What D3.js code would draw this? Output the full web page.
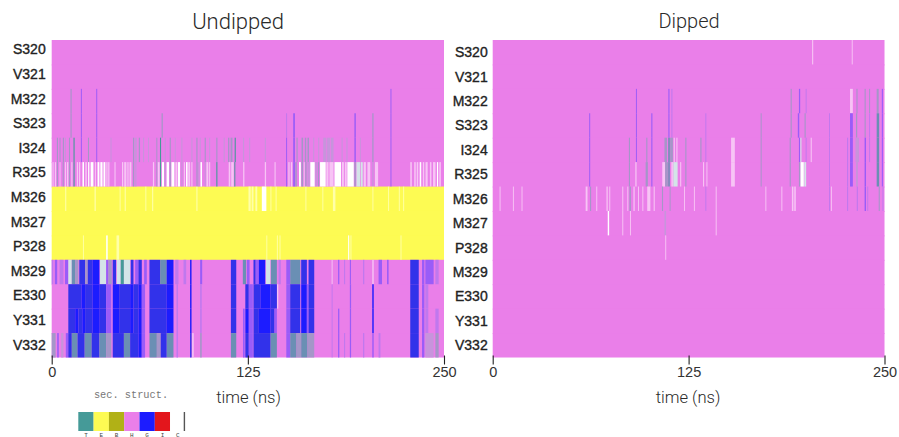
<!DOCTYPE html>
<html>
<head>
  <title>Secondary structure</title>
  <style type="text/css">
    html, body { margin: 0; padding: 0; background: #fff; overflow: hidden; }
    text { font-family: "Liberation Sans", sans-serif; }
  </style>
</head>
<body>
<div id="chart"></div>

<script src="https://d3js.org/d3.v7.min.js"></script>
<script type="text/javascript">
var residues = ["S320","V321","M322","S323","I324","R325","M326","M327","P328","M329","E330","Y331","V332"];
var timeTicks = [0, 125, 250];

var legendCodes = ["T","E","B","H","G","I","C"];
var legendColors = ["#459a98","#fdfb52","#b1b116","#ea7fe9","#1a1aff","#e3141e","#ffffff"];
// in-between codes: frames averaged within one time bin of the picture
var blendCodes = ["M","V","v","A","a","P","y","L","t"];
var blendColors = ["#3030ea","#9a5cf8","#c078ee","#a596c8","#c794dc","#f7c4f5","#ffffa8","#d4e4e8","#6b8fb4"];

var undippedBase = ["H","H","H","H","H","H","E","E","E","H","H","H","H"];
var dippedBase = ["H","H","H","H","H","H","H","H","H","H","H","H","H"];

// spans are [start ns, end ns, code]
var u_M322 = [[12,12.7,"A"],[18.6,19.2,"V"],[28.4,29,"V"],[215.9,216.5,"V"]];
var u_S323 = [[12,12.7,"A"],[18.6,19.2,"V"],[28.4,29,"V"],[70,70.8,"A"],[149.4,150,"v"],[153.9,155,"V"],[192.9,193.8,"V"],[204.3,205.1,"A"],[215.9,216.5,"V"]];
var u_I324 = [[3.3,4,"A"],[5,5.6,"A"],[7.1,7.8,"A"],[8.4,9.1,"a"],[11,11.7,"A"],[13.9,14.6,"T"],[18.6,19.2,"V"],[23.1,23.8,"A"],[28.4,29,"V"],[37.5,38.1,"a"],[51.8,52.6,"A"],[53,54.2,"a"],[55.5,56.3,"A"],[58.2,58.9,"a"],[61.4,62,"a"],[66.7,67.3,"A"],[69,69.7,"T"],[72,72.7,"a"],[75.2,75.9,"A"],[78.4,79,"a"],[82.6,83.3,"a"],[89,89.7,"a"],[92.2,92.9,"A"],[94.3,95,"a"],[97.5,98.2,"A"],[100.3,101,"a"],[104.9,105.6,"A"],[109.6,110.3,"a"],[112.4,113.2,"A"],[114,115.2,"A"],[116.6,117.3,"T"],[121.9,122.6,"a"],[125.8,126.5,"a"],[135.8,136.5,"a"],[149.4,150,"V"],[153.9,155,"V"],[156,156.7,"A"],[159.2,160.2,"A"],[161.3,162.2,"A"],[163,164,"A"],[166.6,167.3,"a"],[169.8,170.5,"a"],[173,175,"a"],[175.5,177.5,"a"],[178,179.6,"a"],[184.7,185.4,"a"],[187.8,188.5,"a"],[192.9,193.8,"V"],[196.4,197,"a"],[204.3,205.1,"A"],[215.9,216.5,"V"]];
var u_R325 = [[0.5,1.2,"P"],[2,2.8,"P"],[3.3,4,"A"],[5,5.6,"P"],[7,7.7,"A"],[8.4,9.1,"P"],[9.7,10.6,"P"],[11,11.7,"A"],[12.5,13.2,"P"],[13.9,14.6,"T"],[16,16.8,"P"],[17.4,18.2,"P"],[19.6,20.6,"C"],[21.4,22.4,"P"],[23.2,24,"C"],[24.8,26.6,"C"],[27.5,28.2,"P"],[29.2,30.4,"C"],[31,32.4,"C"],[33,34.2,"C"],[34.8,35.6,"P"],[36,36.8,"P"],[40,40.7,"P"],[44.8,45.6,"P"],[46.2,47.6,"P"],[48.2,49,"P"],[49.6,50.8,"P"],[51.8,52.6,"A"],[53.2,54,"a"],[64.5,65.3,"P"],[66.7,67.3,"A"],[67.6,68.8,"P"],[69,69.7,"T"],[70.2,71.6,"C"],[72,72.7,"a"],[73.2,74.8,"C"],[75.2,75.9,"A"],[76.3,78.2,"C"],[78.8,80,"P"],[80.4,81.8,"C"],[82.6,83.3,"a"],[84.2,84.9,"P"],[85.6,86.6,"C"],[87,88.2,"P"],[89,89.7,"P"],[92.2,93,"A"],[93.4,94.1,"a"],[94.8,95.8,"C"],[97.5,98.2,"a"],[98.6,99.8,"P"],[100.3,101,"P"],[104.9,105.6,"T"],[112.8,113.8,"P"],[114.4,116,"P"],[116.4,117,"T"],[122,122.8,"P"],[135.8,136.6,"P"],[142,142.7,"P"],[149.4,150,"V"],[150.8,151.6,"P"],[152.4,153.3,"P"],[153.9,155,"V"],[155.2,156.2,"A"],[157.6,158.8,"C"],[159.2,160.2,"A"],[160.6,161.2,"P"],[161.6,162.4,"A"],[163,164.4,"a"],[164.8,167.6,"C"],[168,169,"a"],[169.6,170.4,"A"],[171,174.6,"C"],[175,176.4,"P"],[177,179.6,"P"],[180.2,184.4,"C"],[185,186.2,"P"],[186.8,188,"P"],[188.4,192.5,"C"],[192.9,193.8,"A"],[194.2,196.6,"L"],[197,198.2,"L"],[198.8,200.2,"P"],[201.2,203,"P"],[204.3,205.1,"a"],[206,208,"P"],[215.9,216.5,"V"],[228.5,229.5,"P"],[231,232,"P"],[232.6,233.6,"P"],[234.5,235.5,"C"],[236.5,237.4,"P"],[238.2,239.6,"P"],[241,242,"P"],[243,244.6,"P"],[245.5,246.3,"C"],[247,248,"P"]];
var u_M326 = [[8.6,9.3,"y"],[27.3,28.1,"y"],[43.3,43.9,"y"],[46.5,47.2,"y"],[59.7,60.3,"y"],[64,64.7,"y"],[92.2,92.9,"y"],[125.4,126.8,"y"],[127.4,128.6,"y"],[129.8,131,"y"],[133.9,136.8,"C"],[139.4,140,"y"],[142.7,143.3,"y"],[161.7,162.3,"y"],[172.5,173.1,"y"],[179.2,180.8,"y"],[204.4,205,"y"],[214.4,215,"y"],[221.2,221.8,"y"],[224,224.6,"y"]];
var u_M327 = [];
var u_P328 = [[19.9,20.5,"y"],[34.7,35.7,"C"],[41.3,43,"y"],[136.8,137.4,"y"],[143.5,144.1,"y"],[145.2,145.8,"y"],[188.9,189.6,"C"],[190.4,191,"y"],[222.3,222.9,"y"]];
var u_M329 = [[0,1,"v"],[2,3.5,"V"],[5,7.5,"v"],[8.5,10.6,"V"],[10.6,12.8,"L"],[12.8,14.9,"t"],[14.9,17,"A"],[17.6,21.3,"M"],[21.3,23,"A"],[23,26.1,"M"],[26.1,30.4,"G"],[30.8,34.7,"L"],[34.7,36.1,"V"],[36.1,38.3,"A"],[38.9,41,"M"],[41.5,44,"L"],[44,46,"T"],[46,50,"L"],[50.4,52.1,"M"],[53.2,55.3,"V"],[55.3,57.4,"M"],[58.9,60.6,"V"],[62.3,69.1,"M"],[69.1,73.3,"t"],[73.3,77.6,"G"],[78.7,80.8,"v"],[84,85.7,"v"],[88.2,89.1,"G"],[94.6,95.9,"V"],[114.2,117.6,"M"],[121.8,123.9,"t"],[124.4,126.1,"V"],[128.6,130,"M"],[130,132,"V"],[132,136.1,"G"],[136.5,139.3,"L"],[139.7,143.5,"t"],[144.6,146,"v"],[149.5,152,"V"],[152,158.4,"t"],[159,162.6,"M"],[163.7,167.3,"M"],[178.4,179,"P"],[182.5,183.3,"V"],[186.3,187,"v"],[190,190.7,"V"],[198.4,199.2,"v"],[204.3,205.2,"P"],[208.3,210.5,"V"],[213.7,214.7,"V"],[228.5,233.9,"M"],[236,237.5,"V"],[238.1,243.4,"V"],[244.5,246.6,"v"]];
var u_E330 = [[10.6,19,"M"],[19,21.3,"G"],[21.3,26.1,"M"],[26.1,30.6,"G"],[30.6,34.7,"M"],[34.7,38,"V"],[38.9,43,"G"],[43,50,"M"],[50,52.1,"G"],[52.1,55.3,"M"],[55.3,57.4,"G"],[57.4,59.5,"V"],[62.3,73.3,"M"],[73.3,77.6,"G"],[79.5,80.5,"v"],[88.2,89.1,"G"],[94.6,95.6,"v"],[114.2,117.6,"M"],[123.4,125.6,"M"],[125.6,128.2,"V"],[128.6,133,"M"],[133,139.5,"G"],[139.5,143.5,"M"],[143.6,144.4,"P"],[149.5,152,"V"],[152,158.4,"M"],[159,162.6,"G"],[162.6,163.7,"V"],[163.7,167.3,"M"],[178.4,179,"v"],[190,190.8,"V"],[204.3,205.2,"G"],[228.5,233.9,"M"],[236,237.5,"V"],[238.1,240,"v"]];
var u_Y331 = [[10.6,15,"M"],[15,17,"G"],[17,19.5,"M"],[19.5,21.3,"G"],[21.3,26.1,"M"],[26.1,30.6,"G"],[30.6,34.7,"M"],[34.7,38,"V"],[38.9,43,"G"],[43,50,"M"],[50,52.1,"G"],[52.1,55.3,"M"],[55.3,57.4,"G"],[57.4,59.5,"V"],[62.3,73.3,"M"],[73.3,77.6,"G"],[79.5,80.5,"v"],[88.2,89.1,"G"],[94.6,95.6,"v"],[114.2,117.6,"M"],[121.9,123,"V"],[123.4,125.6,"G"],[125.6,128.2,"V"],[128.6,132,"M"],[132,139.5,"G"],[139.5,142,"M"],[142,143.5,"V"],[149.5,152,"V"],[152,158.4,"M"],[159,162.6,"G"],[162.6,163.7,"V"],[163.7,167.3,"M"],[178.4,179,"v"],[182.5,183.3,"V"],[190,190.8,"V"],[204.3,205.2,"G"],[228.5,233.9,"M"],[236,237.5,"V"],[238.1,240,"v"],[244.5,246.6,"v"]];
var u_V332 = [[0,2.5,"A"],[3.5,4.5,"V"],[6,7.5,"a"],[9,10.6,"V"],[10.6,12.8,"M"],[12.8,16.5,"t"],[16.5,21,"M"],[21,25.5,"t"],[25.5,30.4,"M"],[30.4,34.7,"t"],[34.7,38,"A"],[38.9,46,"M"],[46,50,"t"],[50,55.3,"M"],[55.3,57.4,"G"],[57.4,59.5,"V"],[62.3,67,"t"],[67,69.5,"A"],[69.5,73.3,"M"],[73.3,77.6,"t"],[79.5,80.5,"v"],[88.2,89.1,"M"],[89.5,90.5,"P"],[94.6,95.6,"A"],[114.2,117.6,"t"],[121.9,123,"V"],[123.4,125.6,"M"],[125.6,128.2,"V"],[128.6,139.5,"M"],[139.5,143.5,"t"],[149.5,152,"V"],[152,156,"t"],[156,159,"A"],[159,163,"t"],[163,167.3,"A"],[178.4,179,"v"],[182.5,183.3,"V"],[186.3,187,"v"],[190,190.8,"V"],[198.4,199.2,"v"],[204.3,205.2,"V"],[208.3,209.5,"v"],[228.5,233.9,"M"],[236,237.5,"V"],[238.1,243.4,"a"],[244.5,246.6,"A"]];

var d_S320 = [[203.8,204.5,"P"],[229.1,229.7,"P"]];
var d_M322 = [[91.4,92,"V"],[112.1,112.8,"V"],[114,114.7,"v"],[190.1,190.8,"A"],[195.4,196.2,"V"],[199.7,200.3,"v"],[228,229.8,"P"],[232.1,232.8,"A"],[237.3,238,"A"],[240.2,240.8,"A"],[245,246.3,"A"],[248.3,249,"V"]];
var d_S323 = [[61.6,62.2,"V"],[91.4,92,"V"],[101.2,101.9,"V"],[112.1,112.8,"V"],[114,114.7,"v"],[135.7,136.3,"v"],[171,171.6,"A"],[190.1,190.8,"A"],[194.7,195.6,"V"],[199,199.7,"A"],[214.6,215.2,"v"],[228,229.8,"V"],[231.8,232.6,"A"],[237.3,238,"A"],[240.2,240.8,"v"],[245,246.6,"t"],[248.3,249,"V"]];
var d_I324 = [[61.6,62.2,"V"],[86.9,87.6,"A"],[91.4,92,"V"],[98,98.7,"A"],[101.2,101.9,"V"],[109.6,111.2,"A"],[112,113,"t"],[113.2,115,"A"],[115.5,116.2,"P"],[117.2,117.9,"P"],[122.9,123.6,"A"],[132.5,133.2,"A"],[135.7,136.3,"v"],[152.1,154.5,"P"],[171,171.6,"A"],[189.5,190.2,"A"],[195.4,196.2,"V"],[196.3,197,"L"],[199.7,200.3,"v"],[202.9,203.6,"P"],[214.6,215.2,"v"],[226.1,226.8,"v"],[228,229.8,"V"],[231.5,233.7,"a"],[237.3,238.2,"V"],[240.2,240.8,"v"],[245,246.6,"t"],[248.3,249,"V"]];
var d_R325 = [[61.6,62.2,"V"],[86.9,87.6,"A"],[91,91.8,"P"],[97.6,99,"A"],[101.2,101.9,"V"],[108.2,110,"P"],[110,111.8,"A"],[112,113,"t"],[114,115,"P"],[115.2,118,"L"],[119.6,120.3,"P"],[122.9,123.6,"A"],[134.2,134.9,"P"],[136.4,137,"P"],[152.1,154.5,"P"],[171,171.6,"A"],[189.5,190.2,"A"],[195.4,196.4,"A"],[196.4,198.5,"C"],[198.8,200,"L"],[214.6,215.2,"v"],[226.1,226.8,"v"],[228,229.8,"V"],[231.8,233,"a"],[237.3,238.2,"V"],[245,246.6,"t"],[248.3,249,"V"]];
var d_M326 = [[4.4,5,"P"],[12.9,13.5,"P"],[18.4,19,"P"],[59.3,60.5,"P"],[62.1,62.8,"A"],[66.1,66.7,"P"],[72.6,73.4,"P"],[74.4,75,"P"],[82.7,83.3,"P"],[85.9,86.5,"P"],[87.2,88.2,"A"],[89.8,90.6,"P"],[92.7,93.3,"P"],[95.5,96.1,"P"],[98.6,100.6,"P"],[102.7,103.4,"P"],[108,108.7,"A"],[112.9,113.5,"A"],[122.1,122.7,"P"],[128.4,129,"P"],[135.7,136.3,"v"],[142.3,142.9,"P"],[174,174.6,"P"],[184.2,184.8,"P"],[190.9,191.9,"P"],[192.4,193.4,"P"],[214.6,215.2,"v"],[215.8,216.4,"P"],[226.1,226.8,"v"],[232.3,233,"v"],[237.3,238.2,"V"],[239,239.6,"v"],[246.3,247,"A"],[248.7,249.3,"v"]];
var d_M327 = [[73.4,74.3,"C"],[82.7,83.3,"P"],[87.6,88.2,"P"],[109.6,110.6,"a"],[142.3,142.9,"P"]];
var d_P328 = [[110.1,110.7,"P"]];

var undippedSpans = [[], [], u_M322, u_S323, u_I324, u_R325, u_M326, u_M327, u_P328, u_M329, u_E330, u_Y331, u_V332];
var dippedSpans = [d_S320, [], d_M322, d_S323, d_I324, d_R325, d_M326, d_M327, d_P328, [], [], [], []];

var width = 899, height = 437;

var svg = d3.select("#chart").append("svg")
  .attr("width", width)
  .attr("height", height);

// reference is a soft raster, so soften the cells the same way
svg.append("defs").append("filter")
    .attr("id", "soft")
    .attr("x", "-2%").attr("width", "104%")
  .append("feGaussianBlur")
    .attr("stdDeviation", "0.6 0.45");

var color = d3.scaleOrdinal()
  .domain(legendCodes.concat(blendCodes))
  .range(legendColors.concat(blendColors));

function panel(opts, base, spans) {
  var left = opts.left, right = opts.right;
  var x = d3.scaleLinear().domain([0, 250]).range([left, right]);
  var y = d3.scaleBand().domain(residues).range([40, 357.5]);
  var yLabel = d3.scaleBand().domain(residues).range(opts.labelRange);

  var cells = svg.append("g").attr("filter", "url(#soft)");

  // later rows overlap a little so no seam shows through the blur
  cells.selectAll("rect.row")
    .data(residues)
    .enter().append("rect")
      .attr("class", "row")
      .attr("x", x(0))
      .attr("y", d => y(d))
      .attr("width", x(250) - x(0))
      .attr("height", (d, i) => y.bandwidth() + (i < residues.length - 1 ? 1 : 0))
      .attr("fill", (d, i) => color(base[i]));

  residues.forEach((r, i) => {
    cells.append("g").selectAll("rect")
      .data(spans[i])
      .enter().append("rect")
        .attr("x", d => x(d[0]))
        .attr("y", y(r))
        .attr("width", d => x(d[1]) - x(d[0]))
        .attr("height", y.bandwidth())
        .attr("fill", d => color(d[2]));
  });

  var xAxis = d3.axisBottom(x).tickValues(timeTicks).tickSize(9).tickPadding(2);
  var gx = svg.append("g")
    .attr("transform", "translate(0,355.5)")
    .call(xAxis);
  gx.select(".domain").remove();
  gx.selectAll("line").attr("stroke", "#222").attr("stroke-width", 1.1);
  gx.selectAll("text")
    .attr("fill", "#333")
    .style("font-size", "14.5px");

  residues.forEach(r => {
    svg.append("text")
      .attr("x", left + opts.labelDx)
      .attr("y", yLabel(r) + yLabel.bandwidth() / 2 + 5)
      .attr("text-anchor", "end")
      .attr("fill", "#222")
      .attr("stroke", "#222")
      .attr("stroke-width", 0.35)
      .style("font-size", "14px")
      .text(r);
  });

  svg.append("text")
    .attr("x", opts.titleX)
    .attr("y", opts.titleY)
    .attr("text-anchor", "middle")
    .attr("fill", "#2a2a2a")
    .style("font-family", "Roboto, sans-serif")
    .style("font-weight", 300)
    .style("font-size", opts.titleSize + "px")
    .text(opts.title);

  svg.append("text")
    .attr("x", opts.timeX)
    .attr("y", 403)
    .attr("text-anchor", "middle")
    .attr("fill", "#2a2a2a")
    .style("font-family", "Roboto, sans-serif")
    .style("font-weight", 300)
    .style("font-size", "16.6px")
    .text("time (ns)");
}

panel({title: "Undipped", left: 51.7, right: 444, labelRange: [37, 357], labelDx: -6,
       titleX: 238, titleY: 29, titleSize: 22, timeX: 248.5}, undippedBase, undippedSpans);
panel({title: "Dipped", left: 492.7, right: 884.5, labelRange: [40, 357.5], labelDx: -5,
       titleX: 689, titleY: 28, titleSize: 20, timeX: 688}, dippedBase, dippedSpans);

// sec. struct. legend
var lx = d3.scaleBand().domain(legendCodes).range([78.3, 185.4]);
var legend = svg.append("g").attr("filter", "url(#soft)");
legend.selectAll("rect")
  .data(legendCodes)
  .enter().append("rect")
    .attr("x", d => lx(d))
    .attr("y", 412)
    .attr("width", lx.bandwidth())
    .attr("height", 19)
    .attr("fill", d => color(d));
legend.append("line")
  .attr("x1", lx.range()[1] - 1).attr("x2", lx.range()[1] - 1)
  .attr("y1", 412).attr("y2", 431)
  .attr("stroke", "#555").attr("stroke-width", 1.4);

svg.append("text")
  .attr("x", 131)
  .attr("y", 398)
  .attr("text-anchor", "middle")
  .attr("fill", "#777")
  .style("font-family", "'Liberation Mono', 'DejaVu Sans Mono', monospace")
  .style("font-size", "10.3px")
  .text("sec. struct.");

svg.append("g").selectAll("text")
  .data(legendCodes)
  .enter().append("text")
    .attr("x", d => lx(d) + lx.bandwidth() / 2)
    .attr("y", 436.5)
    .attr("text-anchor", "middle")
    .attr("fill", "#444")
    .style("font-family", "'Liberation Mono', 'DejaVu Sans Mono', monospace")
    .style("font-size", "6px")
    .text(d => d);
</script>
</body>
</html>
